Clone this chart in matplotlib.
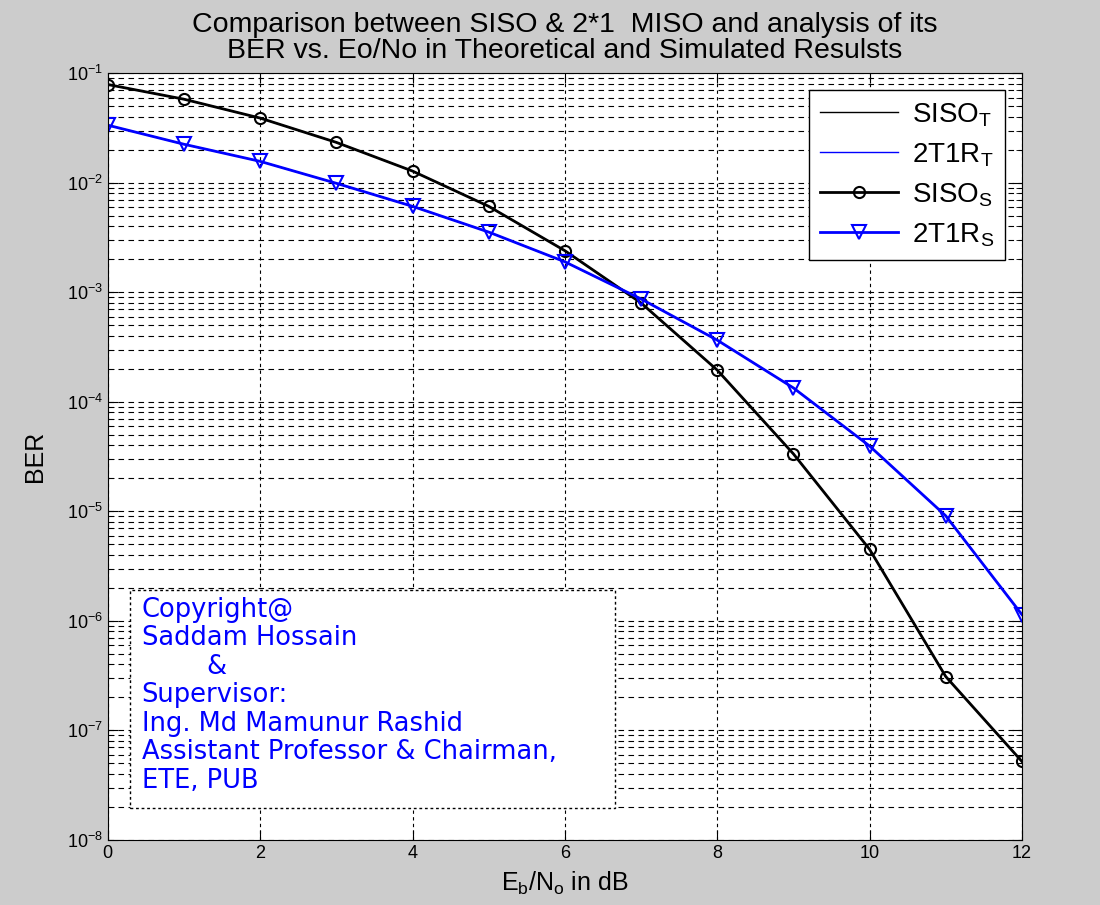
import numpy as np
import matplotlib
matplotlib.use("Agg")
import matplotlib.pyplot as plt
from matplotlib.patches import Rectangle
from matplotlib.ticker import LogLocator, NullFormatter

plt.rcParams["font.family"] = ["Liberation Sans", "DejaVu Sans"]
plt.rcParams["mathtext.fontset"] = "custom"
plt.rcParams["mathtext.rm"] = "Liberation Sans"
plt.rcParams["mathtext.it"] = "Liberation Sans"

# === Données ===
ebno = [0, 1, 2, 3, 4, 5, 6, 7, 8, 9, 10, 11, 12]

siso_theo = [0.079, 0.058, 0.039, 0.0234, 0.0128, 0.0061, 0.0024,
             8.0e-4, 1.95e-4, 3.35e-5, 4.5e-6, 3.1e-7, 5.2e-8]
miso_theo = [0.0336, 0.0225, 0.0157, 0.0099, 0.0061, 0.00355, 0.0019,
             8.7e-4, 3.66e-4, 1.34e-4, 3.95e-5, 9.1e-6, 1.14e-6]
siso_sim = [0.079, 0.058, 0.039, 0.0234, 0.0128, 0.0061, 0.0024,
            8.0e-4, 1.95e-4, 3.35e-5, 4.5e-6, 3.1e-7, 5.2e-8]
miso_sim = [0.0336, 0.0225, 0.0157, 0.0099, 0.0061, 0.00355, 0.0019,
            8.7e-4, 3.66e-4, 1.34e-4, 3.95e-5, 9.1e-6, 1.14e-6]

credits = ["Copyright@", "Saddam Hossain", "        &", "Supervisor:",
           "Ing. Md Mamunur Rashid", "Assistant Professor & Chairman,",
           "ETE, PUB"]

fig = plt.figure(figsize=(11, 9.05), dpi=100, facecolor="#cccccc")
ax = fig.add_axes([0.098, 0.072, 0.831, 0.847])
ax.set_facecolor("white")

ax.semilogy(ebno, siso_theo, color="black", lw=1.0, label=r"$\mathregular{SISO_T}$")
ax.semilogy(ebno, miso_theo, color="blue", lw=1.0, label=r"$\mathregular{2T1R_T}$")
ax.semilogy(ebno, siso_sim, color="black", lw=2.0, marker="o", ms=8,
            mfc="none", mew=1.5, label=r"$\mathregular{SISO_S}$")
ax.semilogy(ebno, miso_sim, color="blue", lw=2.0, marker="v", ms=10,
            mfc="none", mew=1.5, label=r"$\mathregular{2T1R_S}$")

ax.set_xlim(0, 12)
ax.set_ylim(1e-8, 1e-1)
ax.set_xticks(range(0, 13, 2))
ax.yaxis.set_major_locator(LogLocator(base=10, numticks=20))
ax.yaxis.set_minor_locator(LogLocator(base=10, subs=np.arange(2, 10), numticks=20))
ax.yaxis.set_minor_formatter(NullFormatter())
ax.tick_params(which="both", direction="in", top=True, right=True, labelsize=13)
ax.tick_params(which="major", length=7)
ax.tick_params(which="minor", length=4)

ax.grid(True, which="major", axis="x", color="black", linestyle=(0, (3, 3)), lw=0.8)
ax.grid(True, which="both", axis="y", color="black", linestyle=(0, (5, 4)), lw=0.8)
ax.set_axisbelow(True)

ax.set_xlabel(r"$\mathregular{E_b/N_o}$ in dB", fontsize=18, labelpad=6)
ax.set_ylabel("BER", fontsize=18, labelpad=14)
ax.set_title("Comparison between SISO & 2*1  MISO and analysis of its\n"
             "BER vs. Eo/No in Theoretical and Simulated Resulsts",
             fontsize=20.5, pad=11, linespacing=1.0)

leg = ax.legend(loc="upper right", fontsize=20, fancybox=False, framealpha=1,
                edgecolor="black", handlelength=2.8, borderaxespad=0.6,
                labelspacing=0.45, handletextpad=0.5)
leg.get_frame().set_linewidth(1.0)

# cadre du copyright
box = Rectangle((0.024, 0.042), 0.531, 0.284, transform=ax.transAxes,
                facecolor="white", edgecolor="black", linestyle=(0, (2, 2)),
                lw=1.0, zorder=3)
ax.add_patch(box)
for i, line in enumerate(credits):
    ax.text(0.037, 0.291 - i * 0.0372, line, transform=ax.transAxes,
            va="baseline", ha="left", color="blue", fontsize=18.5,
            family="DejaVu Sans", zorder=4)

fig.savefig("out.png", dpi=100, facecolor=fig.get_facecolor())
